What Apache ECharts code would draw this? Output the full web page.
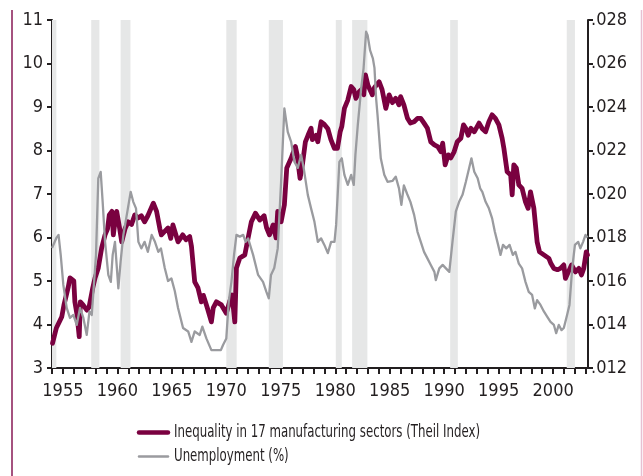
<!DOCTYPE html>
<html>
<head>
<meta charset="utf-8">
<script src="https://cdn.jsdelivr.net/npm/echarts@6/dist/echarts.min.js"></script>
<style>
html,body{margin:0;padding:0;background:#fff;}
#chart{width:643px;height:476px;}
</style>
</head>
<body>
<div id="chart"></div>
<script>
// ---- Data ----
var xTickLabels = [1955, 1960, 1965, 1970, 1975, 1980, 1985, 1990, 1995, 2000];
var leftTicks = [3, 4, 5, 6, 7, 8, 9, 10, 11];
var rightTicks = [0.012, 0.014, 0.016, 0.018, 0.020, 0.022, 0.024, 0.026, 0.028];

var seriesNames = ['Inequality in 17 manufacturing sectors (Theil Index)', 'Unemployment (%)'];

// recession periods [start, end] (decimal years)
var recessions = [
  [1953.9, 1954.4], [1957.6, 1958.35], [1960.3, 1961.2], [1970.0, 1970.95],
  [1973.9, 1975.2], [1980.05, 1980.6], [1981.55, 1982.95], [1990.55, 1991.25],
  [2001.25, 2002.0]
];

// Theil index [year, value]
var theil = [
  [1954.05,0.01314],[1954.4,0.01384],[1954.9,0.01436],[1955.1,0.0149],[1955.5,0.01574],[1955.65,0.01614],
  [1956.0,0.016],[1956.1,0.01504],[1956.3,0.01444],[1956.5,0.01344],[1956.6,0.01504],[1956.85,0.0149],
  [1957.2,0.01466],[1957.4,0.0148],[1957.74,0.01568],[1957.95,0.01614],[1958.25,0.0166],[1958.56,0.01752],
  [1958.87,0.01812],[1959.1,0.0184],[1959.26,0.01904],[1959.5,0.0192],[1959.63,0.01812],[1959.78,0.01872],
  [1959.94,0.0192],[1960.2,0.01844],[1960.4,0.0178],[1960.7,0.0184],[1961.0,0.01872],[1961.3,0.0186],
  [1961.6,0.01904],[1961.9,0.0189],[1962.2,0.019],[1962.5,0.01872],[1962.8,0.019],[1963.3,0.01958],
  [1963.6,0.0192],[1963.9,0.0184],[1964.04,0.01812],[1964.65,0.01844],[1964.9,0.01796],[1965.1,0.01858],
  [1965.57,0.0178],[1966.0,0.01812],[1966.3,0.0179],[1966.64,0.01804],[1966.8,0.0176],[1967.1,0.01596],
  [1967.4,0.01568],[1967.71,0.01504],[1967.9,0.01534],[1968.26,0.01476],[1968.63,0.01412],[1968.8,0.01476],
  [1969.09,0.01504],[1969.55,0.0149],[1970.0,0.01452],[1970.3,0.01504],[1970.53,0.01536],[1970.78,0.01412],
  [1970.93,0.0166],[1971.24,0.01706],[1971.7,0.0172],[1971.93,0.0178],[1972.3,0.01872],[1972.67,0.01912],
  [1973.07,0.0188],[1973.47,0.019],[1973.7,0.01844],[1973.96,0.01812],[1974.3,0.01858],[1974.57,0.01798],
  [1974.72,0.0192],[1975.03,0.01872],[1975.33,0.0195],[1975.55,0.0212],[1975.95,0.02164],[1976.34,0.02218],
  [1976.5,0.0218],[1976.77,0.02072],[1977.0,0.0214],[1977.26,0.0224],[1977.5,0.0227],[1977.78,0.02302],
  [1977.9,0.0225],[1978.24,0.0227],[1978.4,0.0224],[1978.7,0.02332],[1979.0,0.0232],[1979.32,0.023],
  [1979.6,0.0225],[1979.92,0.0221],[1980.2,0.0221],[1980.45,0.02286],[1980.6,0.0231],[1980.84,0.02394],
  [1981.15,0.02432],[1981.46,0.02494],[1981.7,0.0248],[1981.9,0.0244],[1982.2,0.0247],[1982.4,0.0248],
  [1982.62,0.02456],[1982.77,0.02548],[1983.0,0.025],[1983.4,0.02456],[1983.6,0.0249],[1984.03,0.02516],
  [1984.3,0.0248],[1984.64,0.02394],[1984.95,0.02456],[1985.25,0.0242],[1985.55,0.0244],[1985.85,0.0241],
  [1986.0,0.02448],[1986.3,0.0241],[1986.63,0.02348],[1986.9,0.02326],[1987.24,0.02332],[1987.55,0.02348],
  [1987.85,0.02348],[1988.15,0.02326],[1988.46,0.02302],[1988.77,0.0224],[1989.1,0.02226],[1989.4,0.02218],
  [1989.7,0.02194],[1989.86,0.02234],[1990.09,0.02134],[1990.37,0.0218],[1990.61,0.02166],[1990.91,0.02194],
  [1991.2,0.0224],[1991.53,0.02256],[1991.77,0.02318],[1991.98,0.02302],[1992.2,0.0227],[1992.45,0.02302],
  [1992.76,0.02286],[1993.2,0.02326],[1993.5,0.023],[1993.8,0.02286],[1994.1,0.02332],[1994.4,0.02364],
  [1994.7,0.02348],[1995.02,0.02318],[1995.32,0.02256],[1995.48,0.0221],[1995.78,0.02102],[1996.1,0.02088],
  [1996.24,0.01996],[1996.39,0.02134],[1996.62,0.0212],[1996.85,0.02042],[1997.15,0.02026],[1997.46,0.01964],
  [1997.7,0.01934],[1997.92,0.0201],[1998.23,0.01934],[1998.53,0.0178],[1998.75,0.01734],[1999.15,0.0172],
  [1999.61,0.01704],[1999.8,0.0168],[2000.07,0.01658],[2000.4,0.01652],[2000.67,0.01658],[2000.98,0.01674],
  [2001.13,0.01612],[2001.4,0.01642],[2001.69,0.01674],[2002.05,0.01642],[2002.36,0.01658],[2002.6,0.01628],
  [2002.81,0.01658],[2003.04,0.01734],[2003.15,0.0172]
];

// Unemployment rate (%) [year, value]
var unemployment = [
  [1954.0,5.76],[1954.4,5.99],[1954.6,6.06],[1954.8,5.6],[1955.04,4.91],[1955.35,4.38],[1955.65,4.15],
  [1955.96,4.22],[1956.27,3.99],[1956.57,4.38],[1956.88,4.15],[1957.19,3.76],[1957.44,4.3],[1957.65,4.22],
  [1957.8,4.75],[1958.04,5.6],[1958.25,7.36],[1958.47,7.51],[1958.65,6.82],[1958.87,5.9],[1959.17,5.14],
  [1959.4,4.98],[1959.57,5.6],[1959.78,5.9],[1960.09,4.83],[1960.3,5.45],[1960.55,6.06],[1960.92,6.6],
  [1961.22,7.05],[1961.46,6.82],[1961.71,6.67],[1961.93,5.9],[1962.2,5.75],[1962.5,5.9],[1962.8,5.67],
  [1963.15,6.06],[1963.45,5.9],[1963.76,5.67],[1964.0,5.75],[1964.35,5.3],[1964.65,5.0],[1964.96,5.06],
  [1965.27,4.77],[1965.57,4.38],[1966.03,3.92],[1966.5,3.84],[1966.8,3.6],[1967.1,3.84],[1967.56,3.76],
  [1967.8,3.95],[1968.17,3.68],[1968.63,3.41],[1969.1,3.41],[1969.5,3.41],[1969.7,3.53],[1970.0,3.68],
  [1970.22,4.52],[1970.47,4.98],[1970.71,5.6],[1970.93,6.06],[1971.24,6.02],[1971.55,6.06],[1971.77,5.9],
  [1972.0,5.98],[1972.46,5.6],[1972.92,5.14],[1973.37,4.98],[1973.68,4.75],[1973.9,4.6],[1974.1,5.14],
  [1974.4,5.3],[1974.72,5.75],[1975.03,7.28],[1975.33,8.97],[1975.64,8.43],[1975.95,8.2],[1976.25,7.74],
  [1976.56,7.6],[1976.87,7.9],[1977.1,7.6],[1977.48,6.98],[1977.78,6.67],[1978.09,6.36],[1978.4,5.9],
  [1978.7,5.98],[1979.0,5.83],[1979.32,5.64],[1979.62,5.9],[1979.93,5.9],[1980.08,6.29],[1980.38,7.74],
  [1980.6,7.82],[1980.84,7.44],[1981.15,7.21],[1981.46,7.44],[1981.7,7.21],[1981.85,7.9],[1982.07,8.59],
  [1982.38,9.43],[1982.6,9.89],[1982.83,10.73],[1982.97,10.65],[1983.2,10.3],[1983.45,10.12],[1983.6,9.9],
  [1983.75,9.2],[1983.88,8.82],[1984.18,7.82],[1984.5,7.44],[1984.8,7.28],[1985.25,7.3],[1985.55,7.4],
  [1985.85,7.13],[1986.07,6.75],[1986.3,7.2],[1986.6,7.0],[1986.9,6.82],[1987.24,6.52],[1987.55,6.13],
  [1987.85,5.9],[1988.15,5.67],[1988.46,5.52],[1988.77,5.37],[1989.1,5.21],[1989.23,5.02],[1989.55,5.29],
  [1989.86,5.37],[1990.16,5.29],[1990.47,5.21],[1990.76,5.9],[1991.07,6.6],[1991.37,6.82],[1991.68,6.98],
  [1991.99,7.28],[1992.29,7.6],[1992.5,7.82],[1992.76,7.51],[1993.07,7.36],[1993.3,7.13],[1993.5,7.05],
  [1993.8,6.82],[1994.1,6.67],[1994.4,6.44],[1994.65,6.13],[1994.95,5.83],[1995.17,5.6],[1995.4,5.83],
  [1995.7,5.75],[1996.0,5.83],[1996.3,5.6],[1996.54,5.67],[1996.85,5.4],[1997.15,5.29],[1997.46,4.98],
  [1997.76,4.75],[1998.07,4.68],[1998.32,4.37],[1998.53,4.56],[1998.84,4.45],[1999.15,4.3],[1999.45,4.18],
  [1999.76,4.06],[2000.07,3.99],[2000.28,3.8],[2000.52,3.99],[2000.77,3.87],[2000.98,3.92],[2001.28,4.22],
  [2001.5,4.45],[2001.75,5.29],[2002.0,5.83],[2002.3,5.9],[2002.5,5.75],[2002.75,5.9],[2002.97,6.06],
  [2003.15,6.0]
];

// ---- Chart ----
var FONT = '"Liberation Sans Narrow", "DejaVu Sans Condensed", Roboto, sans-serif';
var MAROON = '#7a0140';
var GREY = '#9a9b9f';
var INK = '#231f20';

function scaleFor(text, size, target) {
  var c = document.createElement('canvas').getContext('2d');
  c.font = size + 'px ' + FONT;
  var w = c.measureText(text).width;
  return Math.min(1, target / w);
}

var chart = echarts.init(document.getElementById('chart'), null, {renderer: 'canvas'});
var axisLineStyle = {color: INK, width: 2};
var LEG_SIZE = 17;
var legScale = scaleFor(seriesNames[0], LEG_SIZE, 306);

var option = {
  animation: false,
  backgroundColor: '#ffffff',
  textStyle: {fontFamily: FONT},
  grid: {left: 52, right: 55, top: 20, bottom: 108, containLabel: false},
  legend: {show: false, data: seriesNames},
  xAxis: {
    type: 'value',
    min: 1954,
    max: 2003.2,
    interval: 1,
    splitLine: {show: false},
    axisLine: {show: true, lineStyle: axisLineStyle, onZero: false},
    axisTick: {show: true, length: 6, lineStyle: {color: INK, width: 2}},
    axisLabel: {
      fontFamily: FONT, fontSize: 18, color: INK, margin: 14,
      showMinLabel: true, showMaxLabel: false,
      formatter: function (v) { return xTickLabels.indexOf(Math.round(v * 100) / 100) >= 0 ? String(v) : ''; }
    }
  },
  yAxis: [
    {
      type: 'value', position: 'left',
      min: leftTicks[0], max: leftTicks[leftTicks.length - 1], interval: 1,
      splitLine: {show: false},
      axisLine: {show: true, lineStyle: axisLineStyle},
      axisTick: {show: true, length: 5, lineStyle: {color: INK, width: 2}},
      axisLabel: {fontFamily: FONT, fontSize: 18, color: INK, margin: 9}
    },
    {
      type: 'value', position: 'right',
      min: rightTicks[0], max: rightTicks[rightTicks.length - 1], interval: 0.002,
      splitLine: {show: false},
      axisLine: {show: true, lineStyle: axisLineStyle},
      axisTick: {show: true, length: 5, lineStyle: {color: INK, width: 2}},
      axisLabel: {
        fontFamily: FONT, fontSize: 18, color: INK, margin: 3,
        formatter: function (v) { return v.toFixed(3).replace(/^0/, ''); }
      }
    }
  ],
  series: [
    {
      name: seriesNames[0],
      type: 'line',
      yAxisIndex: 1,
      data: theil,
      symbol: 'none',
      lineStyle: {color: MAROON, width: 4.8, join: 'round', cap: 'round'},
      itemStyle: {color: MAROON},
      z: 3,
      markArea: {
        silent: true,
        itemStyle: {color: '#e6e7e7'},
        data: recessions.map(function (r) { return [{xAxis: r[0]}, {xAxis: r[1]}]; })
      }
    },
    {
      name: seriesNames[1],
      type: 'line',
      yAxisIndex: 0,
      data: unemployment,
      symbol: 'none',
      lineStyle: {color: GREY, width: 2.3, join: 'round'},
      itemStyle: {color: GREY},
      z: 4
    }
  ],
  graphic: [
    {type: 'line', shape: {x1: 12, y1: 10, x2: 12, y2: 476}, style: {stroke: '#a5527f', lineWidth: 2}, silent: true},
    {type: 'line', shape: {x1: 641.5, y1: 10, x2: 641.5, y2: 476}, style: {stroke: '#e7bfd2', lineWidth: 1.5}, silent: true},
    // legend
    {type: 'line', shape: {x1: 139, y1: 432.5, x2: 168, y2: 432.5}, style: {stroke: MAROON, lineWidth: 4.5, lineCap: 'round'}, silent: true},
    {type: 'line', shape: {x1: 139, y1: 456.5, x2: 168, y2: 456.5}, style: {stroke: GREY, lineWidth: 2.5, lineCap: 'round'}, silent: true},
    {type: 'text', x: 174, y: 432.5, scaleX: legScale, style: {text: seriesNames[0], font: LEG_SIZE + 'px ' + FONT, fill: INK, textVerticalAlign: 'middle', verticalAlign: 'middle'}, silent: true},
    {type: 'text', x: 174, y: 456.5, scaleX: legScale, style: {text: seriesNames[1], font: LEG_SIZE + 'px ' + FONT, fill: INK, textVerticalAlign: 'middle', verticalAlign: 'middle'}, silent: true}
  ]
};
chart.setOption(option);
</script>
</body>
</html>
